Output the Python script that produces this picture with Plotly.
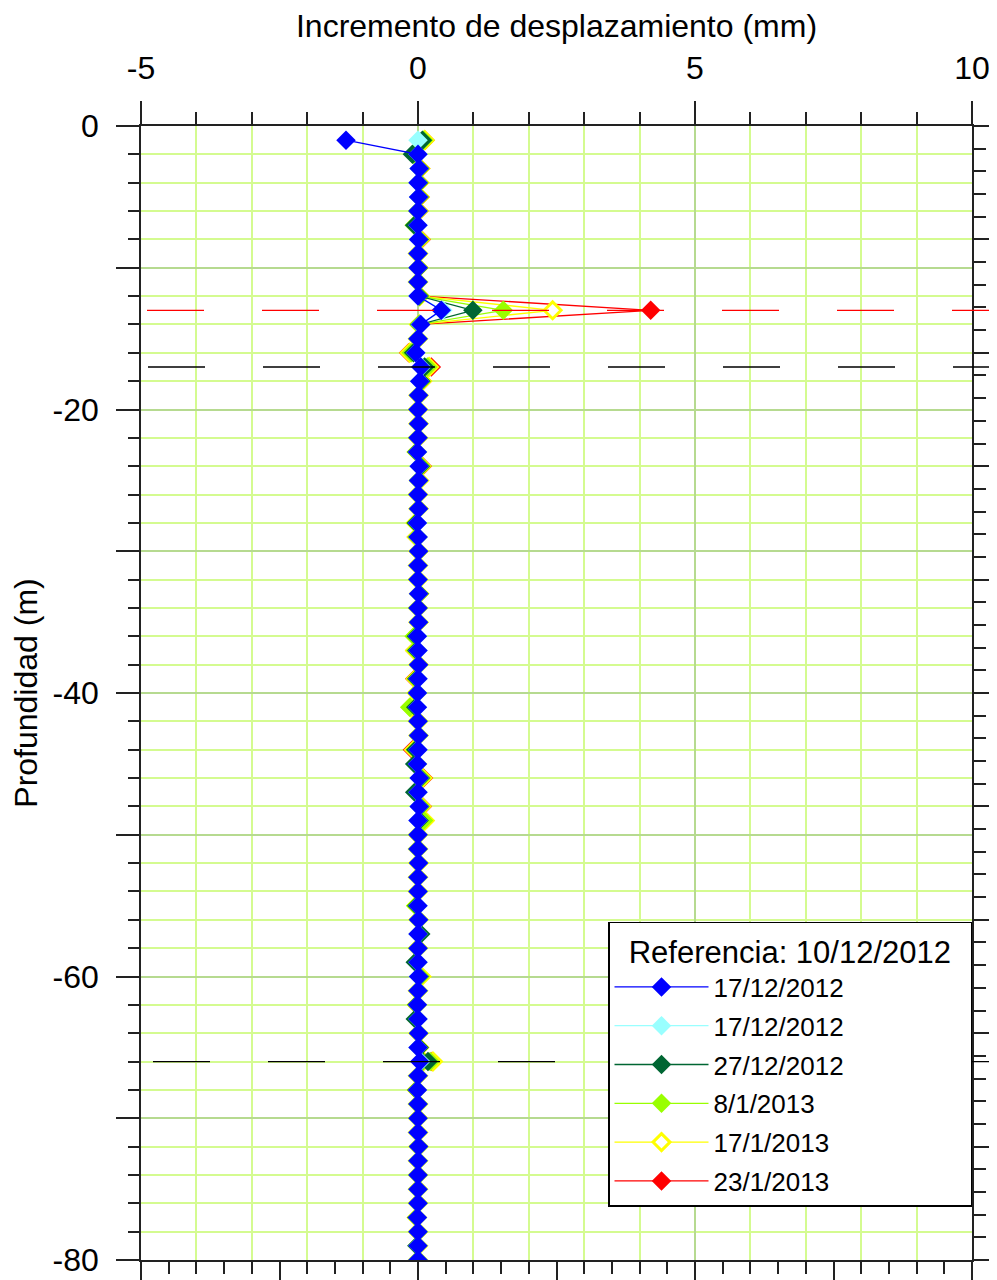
import plotly.graph_objects as go

# profundidad de cada lectura (m)
depth = [-1, -2, -3, -4, -5, -6, -7, -8, -9, -10,
         -11, -12, -13, -14, -15, -16, -17, -18, -19, -20,
         -21, -22, -23, -24, -25, -26, -27, -28, -29, -30,
         -31, -32, -33, -34, -35, -36, -37, -38, -39, -40,
         -41, -42, -43, -44, -45, -46, -47, -48, -49, -50,
         -51, -52, -53, -54, -55, -56, -57, -58, -59, -60,
         -61, -62, -63, -64, -65, -66, -67, -68, -69, -70,
         -71, -72, -73, -74, -75, -76, -77, -78, -79, -80]

# incremento de desplazamiento (mm) por fecha
d_171212a = [-1.30, 0.00, 0.02, 0.00, 0.01, 0.00, 0.00, 0.01, 0.00, 0.00,
             0.00, 0.00, 0.42, 0.05, 0.00, -0.04, 0.05, 0.03, 0.01, 0.00,
             0.01, 0.00, -0.01, 0.02, 0.01, 0.00, 0.01, -0.01, 0.00, 0.01,
             0.00, 0.00, 0.01, 0.00, 0.01, -0.01, 0.00, 0.01, 0.00, -0.01,
             -0.01, 0.00, 0.01, 0.00, -0.01, 0.02, 0.00, 0.02, 0.00, 0.00,
             0.00, 0.01, 0.00, 0.00, 0.00, 0.01, 0.00, 0.00, 0.00, 0.01,
             0.00, -0.01, 0.00, 0.01, 0.00, 0.03, 0.00, -0.01, 0.00, 0.00,
             0.00, 0.01, 0.00, 0.00, 0.00, 0.00, -0.01, 0.00, 0.00, 0.00]
d_171212b = [0.00, 0.00, 0.02, 0.00, 0.01, 0.00, 0.00, 0.01, 0.00, 0.00,
             0.00, 0.00, 0.45, 0.04, 0.00, -0.04, 0.06, 0.03, 0.01, 0.00,
             0.01, 0.00, -0.01, 0.02, 0.01, 0.00, 0.01, -0.01, 0.00, 0.01,
             0.00, 0.00, 0.01, 0.00, 0.01, -0.01, 0.00, 0.01, 0.00, -0.01,
             -0.01, 0.00, 0.01, 0.00, -0.01, 0.02, 0.00, 0.02, 0.00, 0.00,
             0.00, 0.01, 0.00, 0.00, 0.00, 0.01, 0.00, 0.00, 0.00, 0.01,
             0.00, -0.01, 0.00, 0.01, 0.00, 0.05, 0.00, -0.01, 0.00, 0.00,
             0.00, 0.01, 0.00, 0.00, 0.00, 0.00, -0.01, 0.00, 0.00, 0.00]
d_271212 = [0.08, -0.10, 0.03, 0.01, 0.02, 0.00, -0.06, 0.02, 0.00, 0.01,
            0.00, 0.02, 0.99, 0.03, 0.00, -0.08, 0.12, 0.05, 0.01, 0.00,
            0.01, 0.00, -0.02, 0.04, 0.01, 0.00, 0.01, -0.03, 0.00, 0.01,
            0.00, 0.00, 0.02, 0.00, 0.01, -0.03, -0.02, 0.01, -0.02, -0.01,
            -0.04, 0.00, 0.01, -0.04, -0.06, 0.04, -0.06, 0.03, 0.02, 0.00,
            0.00, 0.01, 0.00, 0.00, -0.02, 0.01, 0.05, 0.00, -0.05, 0.02,
            0.00, -0.02, -0.05, 0.01, 0.02, 0.18, 0.00, -0.02, 0.00, 0.00,
            0.00, 0.01, 0.00, 0.00, 0.00, 0.00, -0.02, 0.00, -0.02, 0.00]
d_080113 = [0.10, -0.08, 0.03, 0.02, 0.02, 0.00, -0.07, 0.03, 0.00, 0.01,
            0.00, 0.03, 1.54, 0.02, 0.00, -0.12, 0.17, 0.06, 0.01, 0.00,
            0.01, 0.00, -0.03, 0.06, 0.01, 0.00, 0.01, -0.04, -0.02, 0.01,
            0.00, 0.00, 0.02, 0.00, 0.01, -0.07, -0.04, 0.01, -0.03, -0.02,
            -0.15, 0.00, 0.01, -0.05, -0.03, 0.06, -0.03, 0.05, 0.10, 0.00,
            0.00, 0.01, 0.00, 0.00, -0.04, 0.01, 0.03, 0.00, -0.02, 0.04,
            0.00, -0.02, -0.03, 0.01, 0.02, 0.22, 0.00, -0.02, 0.00, 0.00,
            0.00, 0.01, 0.00, 0.00, 0.00, 0.00, -0.02, 0.00, 0.00, 0.00]
d_170113 = [0.12, -0.05, 0.04, 0.02, 0.03, 0.01, -0.04, 0.04, 0.00, 0.01,
            0.00, 0.03, 2.43, 0.02, 0.00, -0.15, 0.20, 0.07, 0.01, 0.00,
            0.01, 0.00, -0.02, 0.06, 0.02, 0.00, 0.01, -0.04, -0.02, 0.01,
            0.00, 0.00, 0.02, 0.00, 0.01, -0.05, -0.05, 0.01, -0.04, -0.02,
            -0.13, 0.00, 0.01, -0.07, -0.02, 0.08, -0.02, 0.06, 0.12, 0.00,
            0.00, 0.01, 0.00, 0.00, -0.03, 0.01, 0.02, 0.00, -0.02, 0.06,
            0.00, -0.02, -0.02, 0.01, 0.02, 0.27, 0.00, -0.02, 0.00, 0.00,
            0.00, 0.01, 0.00, 0.00, 0.00, 0.00, -0.02, 0.00, 0.00, 0.00]
d_230113 = [0.13, -0.04, 0.05, 0.03, 0.04, 0.02, -0.02, 0.06, 0.00, 0.01,
            0.00, 0.03, 4.20, 0.02, 0.00, -0.17, 0.24, 0.08, 0.01, 0.00,
            0.01, 0.00, -0.02, 0.08, 0.02, 0.00, 0.01, -0.04, -0.03, 0.01,
            0.00, 0.00, 0.02, 0.00, 0.01, -0.04, -0.06, 0.01, -0.06, -0.02,
            -0.10, 0.00, 0.01, -0.10, -0.02, 0.10, -0.02, 0.08, 0.08, 0.00,
            0.00, 0.01, 0.00, 0.00, -0.02, 0.01, 0.02, 0.00, -0.02, 0.05,
            0.00, -0.02, -0.02, 0.01, 0.02, 0.25, 0.00, -0.02, 0.00, 0.00,
            0.00, 0.01, 0.00, 0.00, 0.00, 0.00, -0.02, 0.00, 0.00, 0.00]

names = ['17/12/2012', '17/12/2012', '27/12/2012', '8/1/2013', '17/1/2013', '23/1/2013']
colors = ['#0000ff', '#99ffff', '#006633', '#99ff00', '#ffff00', '#ff0000']
series = [d_171212a, d_171212b, d_271212, d_080113, d_170113, d_230113]

# niveles marcados con linea discontinua (nivel, color, desfase del trazo en px)
levels = [-13, -17, -66]
level_colors = ['#ff0000', '#000000', '#000000']
level_offsets = [6, 7, 12]

FONT = 'Liberation Sans, Arial, sans-serif'
LIGHT = '#d4fb90'
DARK = '#b6da90'
AX = '#222222'

fig = go.Figure()

# dibujar del ultimo al primero para que el azul quede encima
for i in reversed(range(len(series))):
    fill = colors[i]
    size = 15
    mline = dict(width=0)
    if names[i] == '17/1/2013':
        fill = 'white'
        size = 13
        mline = dict(width=3, color=colors[i])
    fig.add_trace(go.Scatter(
        x=series[i], y=depth, name=names[i],
        mode='lines+markers',
        line=dict(color=colors[i], width=1.3),
        marker=dict(symbol='diamond', size=size, color=fill, line=mline),
        legendgroup='g%d' % i, legendrank=i + 1,
        xaxis='x', yaxis='y'))

# ejes secundarios (abajo / derecha) solo con marcas
fig.add_trace(go.Scatter(x=d_171212a, y=depth, xaxis='x2', yaxis='y2',
                         mode='lines', opacity=0, showlegend=False,
                         hoverinfo='skip'))

for lv, c, off in zip(levels, level_colors, level_offsets):
    fig.add_shape(type='line', xref='paper', yref='y', x0=off / 831, x1=1.04, y0=lv, y1=lv,
                  line=dict(color=c, width=1.3, dash='57px,58px'), layer='above')

fig.update_layout(
    width=989, height=1272,
    margin=dict(l=133, r=25, t=118, b=20, autoexpand=False),
    paper_bgcolor='white', plot_bgcolor='white',
    font=dict(family=FONT, size=32, color='black'),
    showlegend=True,
    xaxis=dict(
        side='top', range=[-5, 10], anchor='y', automargin=False,
        tickvals=[-5, 0, 5, 10], ticktext=['-5', '0', '5', '10'],
        ticks='outside', ticklen=23, tickwidth=1.5, tickcolor=AX,
        ticklabelstandoff=9,
        showline=True, linecolor=AX, linewidth=1.5,
        showgrid=True, gridcolor=DARK, gridwidth=2, zeroline=False,
        minor=dict(tickmode='linear', tick0=0, dtick=1, ticks='outside', ticklen=12,
                   tickwidth=1.5, tickcolor=AX, showgrid=True, gridcolor=LIGHT, gridwidth=1.5),
        title=dict(text='Incremento de desplazamiento (mm)', font=dict(size=32), standoff=3),
    ),
    xaxis2=dict(
        side='bottom', overlaying='x', anchor='y', range=[-5, 10], automargin=False,
        tickmode='linear', tick0=0, dtick=2.5, showticklabels=False,
        ticks='outside', ticklen=23, tickwidth=1.5, tickcolor=AX,
        showline=True, linecolor=AX, linewidth=1.5, showgrid=False, zeroline=False,
        minor=dict(tickmode='linear', tick0=0, dtick=0.5, ticks='outside', ticklen=12,
                   tickwidth=1.5, tickcolor=AX, showgrid=False),
    ),
    yaxis=dict(
        range=[-80, 0], anchor='x', automargin=False,
        tickvals=[0, -10, -20, -30, -40, -50, -60, -70, -80],
        ticktext=['0', '', '-20', '', '-40', '', '-60', '', '-80'],
        ticks='outside', ticklen=23, tickwidth=1.5, tickcolor=AX,
        ticklabelstandoff=11,
        showline=True, linecolor=AX, linewidth=1.5,
        showgrid=True, gridcolor=DARK, gridwidth=2, zeroline=False,
        minor=dict(tickmode='linear', tick0=0, dtick=2, ticks='outside', ticklen=11,
                   tickwidth=1.5, tickcolor=AX, showgrid=True, gridcolor=LIGHT, gridwidth=1.5),
        title=dict(text='Profundidad (m)', font=dict(size=32), standoff=7),
    ),
    yaxis2=dict(
        side='right', overlaying='y', anchor='x', range=[-80, 0], automargin=False,
        tickmode='linear', tick0=0, dtick=8, showticklabels=False,
        ticks='outside', ticklen=25, tickwidth=1.5, tickcolor=AX,
        showline=True, linecolor=AX, linewidth=1.5, showgrid=False, zeroline=False,
        minor=dict(tickmode='linear', tick0=0, dtick=1.6, ticks='outside', ticklen=12,
                   tickwidth=1.5, tickcolor=AX, showgrid=False),
    ),
    legend=dict(
        x=1, xanchor='right', y=0.047, yanchor='bottom',
        bgcolor='white', bordercolor='black', borderwidth=1.5,
        font=dict(size=26), tracegroupgap=2, itemwidth=94,
        entrywidth=220,
        title=dict(text='&nbsp;&nbsp;Referencia: 10/12/2012&nbsp;&nbsp;', font=dict(size=31)),
    ),
)

fig.write_html('out.html')
